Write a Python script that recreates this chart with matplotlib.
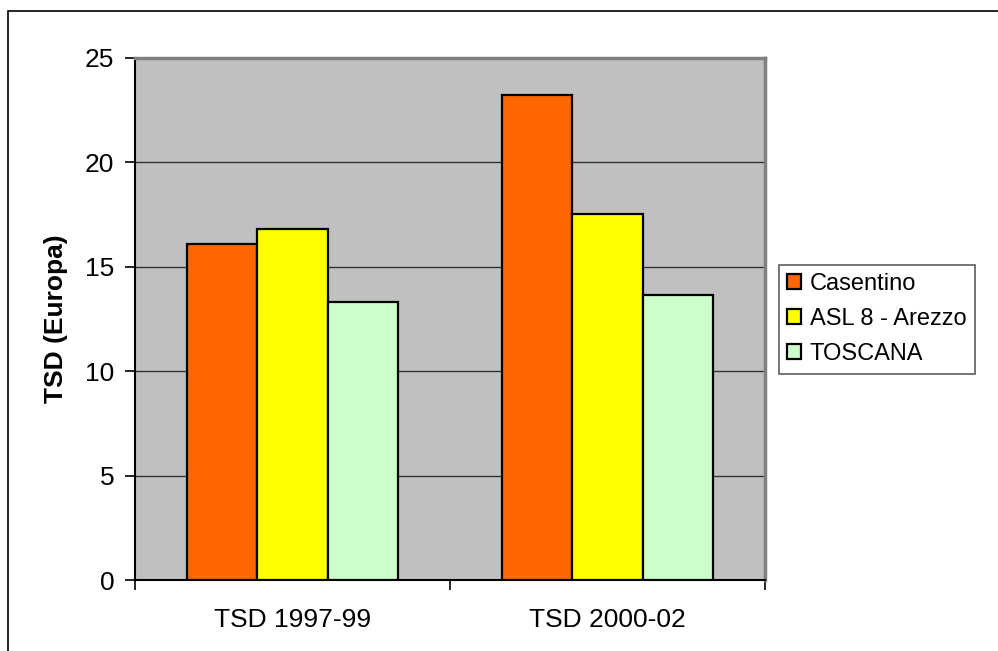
import matplotlib
matplotlib.use("Agg")
import matplotlib.pyplot as plt
import numpy as np
from matplotlib.patches import Rectangle

categories = ["TSD 1997-99", "TSD 2000-02"]
series_names = ["Casentino", "ASL 8 - Arezzo", "TOSCANA"]
casentino = [16.1, 23.2]
asl8 = [16.8, 17.5]
toscana = [13.3, 13.65]
colors = ["#FF6600", "#FFFF00", "#CCFFCC"]
yticks = [0, 5, 10, 15, 20, 25]

plt.rcParams['font.family'] = ['Liberation Sans', 'DejaVu Sans']
FS = 19

fig = plt.figure(figsize=(9.98, 6.51), dpi=100)
fig.patch.set_facecolor("white")

W, H = 998, 651
ax = fig.add_axes([135 / W, 1 - 580 / H, (765 - 135) / W, (580 - 57.7) / H])
ax.set_facecolor("#C0C0C0")

x = np.arange(len(categories))
bw = 0.667 / 3
values = [casentino, asl8, toscana]
for i, (vals, c, name) in enumerate(zip(values, colors, series_names)):
    ax.bar(x + (i - 1) * bw, vals, width=bw, color=c, edgecolor="black",
           linewidth=1.6, label=name, zorder=3)

ax.set_xlim(-0.5, 1.5)
ax.set_ylim(0, 25)
ax.set_yticks(yticks)
ax.yaxis.grid(True, color="#333333", linewidth=1.0, zorder=1)
ax.set_axisbelow(True)
ax.set_xticks(x)
ax.set_xticklabels(categories, fontsize=FS)
ax.set_xticks([-0.5, 0.5, 1.5], minor=True)
ax.tick_params(axis="x", which="major", length=0, pad=20)
ax.tick_params(axis="x", which="minor", length=7, width=1.2, direction="out")
ax.tick_params(axis="y", length=7, width=1.2, direction="out", labelsize=FS, pad=8)

for s in ["top", "right"]:
    ax.spines[s].set_color("#808080")
    ax.spines[s].set_linewidth(2.5)
ax.spines["left"].set_color("black")
ax.spines["left"].set_linewidth(1.5)
ax.spines["bottom"].set_color("black")
ax.spines["bottom"].set_linewidth(1.5)

ax.set_ylabel("TSD (Europa)", fontsize=FS, fontweight="bold", labelpad=12)

leg = fig.legend(loc="upper left", bbox_to_anchor=(779 / W, 1 - 265 / H),
                 fontsize=17, frameon=True, fancybox=False, edgecolor="#333333",
                 handlelength=0.6, handleheight=0.6, handletextpad=0.35,
                 borderpad=0.35, labelspacing=0.55, borderaxespad=0)
leg.get_frame().set_linewidth(1.2)
for h in leg.legend_handles:
    h.set_linewidth(1.6)

border = Rectangle((8 / W, -0.1), 1.5, (1 - 11 / H) + 0.1, transform=fig.transFigure,
                   fill=False, edgecolor="black", linewidth=1.2)
fig.patches.append(border)

fig.savefig("out.png", dpi=100)
